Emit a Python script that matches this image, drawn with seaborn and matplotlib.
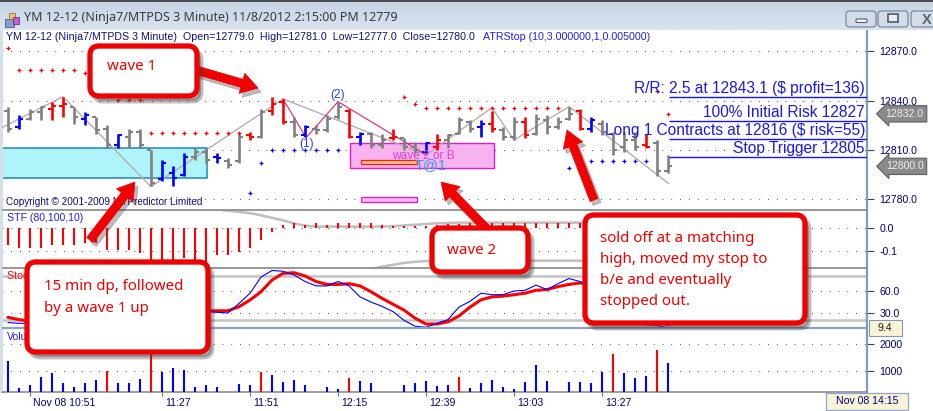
import matplotlib
matplotlib.use("Agg")
import matplotlib.pyplot as plt
import matplotlib.patches as mpatches
import matplotlib.transforms as mtransforms
from matplotlib.colors import LinearSegmentedColormap
import numpy as np
import pandas as pd
import seaborn as sns

nan = np.nan

# ---- YM 12-12, 3 minute bars (10:45 .. 13:45) ----
bar_no = list(range(61))
bar_high = [12836, 12831, 12835, 12837, 12839, 12842, 12836, 12833, 12830, 12825,
            12820, 12823, 12823, 12810, 12804, 12800, 12808, 12811, 12811, 12808,
            12805, 12820, 12821, 12835, 12842, 12841, 12830, 12825, 12825, 12831,
            12839, 12835, 12821, 12821, 12820, 12823, 12817, 12815, 12815, 12820,
            12820, 12830, 12828, 12828, 12834, 12824, 12830, 12830, 12832, 12831,
            12830, 12836, 12835, 12830, 12828, 12821, 12821, 12821, 12820, 12816,
            12807]
bar_low = [12821, 12823, 12828, 12828, 12828, 12830, 12826, 12825, 12820, 12811,
           12811, 12811, 12811, 12788, 12791, 12788, 12794, 12804, 12802, 12802,
           12799, 12802, 12816, 12817, 12831, 12826, 12818, 12818, 12820, 12821,
           12829, 12817, 12813, 12811, 12811, 12816, 12810, 12808, 12808, 12810,
           12811, 12820, 12821, 12818, 12821, 12816, 12816, 12817, 12819, 12820,
           12823, 12828, 12822, 12821, 12819, 12807, 12809, 12810, 12811, 12794,
           12796]
bar_open = [12834, 12824, 12829, 12833, 12835, 12837, 12836, 12829, 12830, 12823,
            12813, 12818, 12821, 12810, 12792, 12796, 12795, 12806, 12809, 12806,
            12803, 12803, 12819, 12818, 12834, 12839, 12827, 12819, 12823, 12822,
            12830, 12834, 12818, 12820, 12813, 12817, 12817, 12812, 12809, 12812,
            12816, 12820, 12827, 12824, 12826, 12822, 12818, 12827, 12820, 12828,
            12824, 12829, 12834, 12823, 12826, 12820, 12812, 12816, 12813, 12814,
            12797]
bar_close = [12823, 12829, 12833, 12836, 12837, 12838, 12830, 12831, 12822, 12813,
             12819, 12821, 12813, 12790, 12802, 12793, 12806, 12809, 12804, 12805,
             12801, 12818, 12818, 12833, 12838, 12827, 12819, 12824, 12822, 12829,
             12836, 12818, 12820, 12813, 12816, 12818, 12812, 12810, 12814, 12816,
             12819, 12828, 12823, 12826, 12823, 12818, 12827, 12819, 12829, 12824,
             12827, 12832, 12823, 12828, 12821, 12810, 12816, 12812, 12812, 12797,
             12800]
# n = neutral (gray), u = blue, d = red
bar_state = ['n', 'u', 'n', 'n', 'd', 'd', 'n', 'u', 'n', 'n',
             'u', 'n', 'n', 'n', 'u', 'u', 'u', 'n', 'n', 'u',
             'n', 'n', 'd', 'n', 'd', 'd', 'n', 'u', 'n', 'n',
             'n', 'd', 'u', 'n', 'n', 'd', 'n', 'n', 'u', 'd',
             'n', 'n', 'n', 'u', 'd', 'n', 'n', 'd', 'n', 'n',
             'n', 'n', 'd', 'u', 'n', 'n', 'n', 'n', 'd', 'n',
             'n']

# ATRStop (10,3,1,0.005)
atr_short = ([12872, 12858.5, 12858.5, 12858.5, 12858.5, 12858.5, 12858.5, 12857, 12850, 12850,
              12840.4, 12840.4, 12840.4] + [12820.5] * 9 + [nan] * 14 +
             [12842.4, 12838] + [12835.8] * 13 + [nan] * 8 + [12846, 12831.7])
atr_long = ([nan] * 22 + [12784, 12802] + [12810] * 7 + [nan] * 20 +
            [12799, nan] + [12803] * 6 + [nan, nan])

# swing zigzag and wave count
swing_bar = [-0.55, 5, 13, 25, 38, 44, 46, 51, 60.05]
swing_price = [12823.6, 12842.5, 12787.6, 12841.1, 12807, 12835.8, 12816, 12836.4, 12789.6]
wave_bar = [25, 27.1, 30, 38.05]
wave_price = [12841.1, 12817.5, 12839.4, 12806.9]
wave_labels = ['(1)', '(2)']
wave_label_bar = [27.1, 30]
wave_label_price = [12813.4, 12843.6]

# zones: (bar from, bar to, price low, price high)
zone_support = (-0.55, 18.1, 12792.7, 12811.1)
zone_target = (31.1, 44.2, 12798.8, 12814.0)
zone_inner = (32.1, 37.2, 12801.2, 12803.9)
zone_lower = (32.1, 37.2, 12778.5, 12781.1)

# trade levels on the right
trade_levels = [12842.5, 12827.4, 12816.5, 12805.5]
trade_texts = ['R/R: 2.5 at 12843.1 ($ profit=136)', '100% Initial Risk 12827',
               'Long 1 Contracts at 12816 ($ risk=55)', 'Stop Trigger 12805']
price_ticks = [12870, 12840, 12810, 12780]
price_flags = [12832.0, 12800.0]

# STF (80,100,10)
stf_hist = [-0.074, -0.088, -0.088, -0.088, -0.074, -0.074, -0.074, -0.067, -0.067, -0.096,
            -0.096, -0.096, -0.110, -0.146, -0.146, -0.139, -0.132, -0.146, -0.146, -0.117,
            -0.117, -0.103, -0.088, -0.052, -0.016, 0.013, 0.020, 0.013, 0.023, 0.013,
            0.023, 0.023, 0.023, 0.023, 0.013, 0.010, 0.008, 0.008, 0.008, 0.012,
            0.015, 0.018, 0.023, 0.023, 0.023, 0.023, 0.023, 0.023, 0.023, 0.023,
            0.023, 0.023, 0.023, 0.015, 0.012, 0.010, 0.008, 0.008, 0.006, 0.005,
            0.004]
stf_upper = ([0.095] * 17 + [0.092, 0.086, 0.080, 0.075, 0.070, 0.064, 0.055, 0.044,
                             0.033, 0.020, 0.010] + [0.006] * 7 +
             [0.008, 0.011, 0.014, 0.017, 0.020, 0.022] + [0.023] * 20)
stf_lower = ([-0.19] * 33 + [-0.178, -0.168, -0.160, -0.152, -0.147, -0.144] + [-0.142] * 22)
stf_ticks = [0.0, -0.1]

# Stochastics
stoch_k = [17, 16, 16, 17, 20, 22, 19, 16, 12, 10,
           12, 15, 13, 11, 15, 22, 28, 33, 32, 31,
           30, 43, 57, 79, 88, 87, 82, 73, 67, 67,
           73, 67, 52, 45, 39, 32, 20, 12, 10.5, 16,
           21, 38, 46, 57, 55, 55, 60, 61, 68, 62,
           70, 77, 73, 60, 48, 35, 25, 18, 14, 13,
           9.4]
stoch_d = [24, 21, 19, 18, 18, 20, 20, 18, 16, 14,
           13, 14, 15, 13, 14, 18, 24, 29, 33, 33,
           33, 38.6, 47.7, 59, 75, 84, 85, 80.5, 73, 69,
           69, 70, 67, 59, 50, 42, 34, 23, 15, 15,
           18, 26, 38, 48, 52, 53, 55, 57, 61, 62,
           66, 69, 71, 70, 66, 58, 48, 38, 28, 20,
           14]
stoch_bands = [80, 20]
stoch_ticks = [60, 30]

# Volume
volume = [1370, 360, 480, 790, 915, 570, 420, 570, 670, 1000,
          545, 570, 705, 2400, 975, 1100, 1040, 420, 480, 420,
          235, 520, 480, 975, 850, 605, 670, 480, 180, 420,
          335, 755, 630, 545, 180, 180, 480, 545, 630, 460,
          470, 790, 360, 545, 670, 395, 320, 605, 1220, 630,
          180, 605, 605, 545, 975, 1630, 915, 755, 825, 1780,
          1310]
volume_red = [9, 13, 23, 31, 41, 55, 59]
vol_ticks = [2000, 1000]

time_tick_bar = [2, 14, 22, 30, 38, 46, 54]
time_tick_label = ['Nov 08 10:51', '11:27', '11:51', '12:15', '12:39', '13:03', '13:27']

df = pd.DataFrame({'bar': bar_no, 'open': bar_open, 'high': bar_high, 'low': bar_low,
                   'close': bar_close, 'state': bar_state, 'volume': volume, 'stf': stf_hist,
                   'stf_up': stf_upper, 'stf_lo': stf_lower, 'k': stoch_k, 'd': stoch_d,
                   'atr_s': atr_short, 'atr_l': atr_long})

# ---------------------------------------------------------------------
sns.set_theme(style='white')
plt.rcParams['font.family'] = ['Liberation Sans', 'DejaVu Sans']

W, H = 933, 411
fig = plt.figure(figsize=(W / 100, H / 100), dpi=100, facecolor='white')

XMIN, XMAX = -6 / 11, 859 / 11
AXIS_BLUE = '#00007A'
DOTS = (0, (0.8, 7.12))


def px_axes(x0, y0, x1, y1):
    return fig.add_axes([x0 / W, 1 - y1 / H, (x1 - x0) / W, (y1 - y0) / H])


def style_panel(ax, ticks, fmt, ylim):
    ax.set_xlim(XMIN, XMAX)
    ax.set_ylim(*ylim)
    ax.set_facecolor('white')
    ax.yaxis.tick_right()
    ax.set_yticks(ticks)
    ax.set_yticklabels([fmt.format(t) for t in ticks])
    ax.tick_params(axis='y', right=True, length=5, width=0.8, color='#404040',
                   labelsize=7.6, labelcolor=AXIS_BLUE, pad=4)
    ax.set_xticks([])
    ax.set_xlabel('')
    ax.set_ylabel('')
    for t in ticks:
        ax.axhline(t, ls=DOTS, color='#505050', lw=0.8, zorder=0)
    ax.spines['left'].set_color('#D5DFEA')
    ax.spines['left'].set_linewidth(1.5)
    ax.spines['right'].set_color('#7F9DB9')
    ax.spines['right'].set_linewidth(1.6)
    ax.spines['top'].set_color('#909090')
    ax.spines['top'].set_linewidth(1.3)
    ax.spines['bottom'].set_visible(False)


def panel_label(ax, text, color, dy):
    ax.annotate(text, xy=(0, 1), xycoords='axes fraction', xytext=(5, dy),
                textcoords='offset pixels', ha='left', va='center', fontsize=7.6, color=color)


# ---------------- price panel ----------------
ax = px_axes(2, 30, 867, 210)

zone_style = [(zone_support, '#AEF4FA', '#1E86B8', 1.1, 1),
              (zone_target, '#F6B3F0', '#E01EC8', 1.0, 1),
              (zone_inner, '#FFC37A', '#F02020', 0.9, 2),
              (zone_lower, '#F6B3F0', '#E01EC8', 0.9, 2)]
for z, fc, ec, lw, zo in zone_style:
    ax.add_patch(mpatches.Rectangle((z[0], z[2]), z[1] - z[0], z[3] - z[2],
                                    fc=fc, ec=ec, lw=lw, zorder=zo))

sns.lineplot(x=swing_bar, y=swing_price, sort=False, color='#B8ACAC', lw=1.0, ax=ax, zorder=3)
sns.lineplot(x=wave_bar, y=wave_price, sort=False, color='#E0207A', lw=0.8, ax=ax, zorder=3)

bar_colors = {'n': '#808080', 'u': '#0000FF', 'd': '#FF0000'}
for state, sub in df.groupby('state'):
    c = bar_colors[state]
    ax.vlines(sub['bar'], sub['low'], sub['high'], color=c, lw=1.9, zorder=4)
    ax.hlines(sub['open'], sub['bar'] - 0.33, sub['bar'], color=c, lw=1.5, zorder=4)
    ax.hlines(sub['close'], sub['bar'], sub['bar'] + 0.33, color=c, lw=1.5, zorder=4)

sns.scatterplot(data=df, x='bar', y='atr_s', marker='+', color='#FF0000', s=9,
                linewidth=0.9, ax=ax, zorder=5)
sns.scatterplot(data=df, x='bar', y='atr_l', marker='+', color='#0000FF', s=9,
                linewidth=0.9, ax=ax, zorder=5)
style_panel(ax, price_ticks, '{:.1f}', (12773.4, 12883.1))
ax.spines['top'].set_visible(False)

for lab, bx, py in zip(wave_labels, wave_label_bar, wave_label_price):
    ax.text(bx, py, lab, ha='center', va='center', fontsize=8.6, color='#2A40F0', zorder=6)
ax.text(34.9, 12806.5, 'wave 2 or B', ha='left', va='center', fontsize=8.6,
        color='#E040D0', zorder=6)
ax.text(37.0, 12800.8, 'T@1', ha='left', va='center', fontsize=10.5, color='#2EA0F0', zorder=6)

for lvl, txt in zip(trade_levels, trade_texts):
    ax.hlines(lvl, 60.1, XMAX, color='#1515E8', lw=1.0, zorder=6)
    ax.annotate(txt, xy=(77.9, lvl), xytext=(0, 1), textcoords='offset pixels',
                ha='right', va='bottom', fontsize=11.2, color='#1A1AE6', zorder=7)

flag_tr = mtransforms.blended_transform_factory(ax.transAxes, ax.transData)
for pf in price_flags:
    ax.text(1.0435, pf, f'{pf:.1f}', transform=flag_tr, ha='center', va='center',
            fontsize=7.6, color='#EEEEEE', clip_on=False,
            bbox=dict(boxstyle='larrow,pad=0.3', fc='#8A8A8A', ec='#5E5E5E', lw=0.8))

ax.annotate('YM 12-12 (Ninja7/MTPDS 3 Minute)  Open=12779.0  High=12781.0  Low=12777.0  '
            'Close=12780.0', xy=(0, 1), xycoords='axes fraction', xytext=(4, -7),
            textcoords='offset pixels', ha='left', va='center', fontsize=7.65, color='#10107A')
ax.annotate('ATRStop (10,3.000000,1,0.005000)', xy=(0, 1), xycoords='axes fraction',
            xytext=(481, -7), textcoords='offset pixels', ha='left', va='center',
            fontsize=7.7, color='#2020E8')
ax.annotate('Copyright © 2001-2009 MTPredictor Limited', xy=(0, 0), xycoords='axes fraction',
            xytext=(4, 8), textcoords='offset pixels', ha='left', va='center',
            fontsize=7.2, color='#10107A')

# ---------------- STF panel ----------------
ax2 = px_axes(2, 210, 867, 268)
sns.lineplot(data=df, x='bar', y='stf_up', color='#BEBEBE', lw=1.8, ax=ax2, zorder=1)
sns.lineplot(data=df, x='bar', y='stf_lo', color='#BEBEBE', lw=1.8, ax=ax2, zorder=1)
ax2.vlines(df['bar'], 0, df['stf'], color='#FF0000', lw=1.5, zorder=3)
panel_label(ax2, 'STF (80,100,10)', '#2020E8', -8)
style_panel(ax2, stf_ticks, '{:.1f}', (-0.174, 0.078))

# ---------------- Stochastics panel ----------------
ax3 = px_axes(2, 268, 867, 328)
for b in stoch_bands:
    ax3.axhline(b, color='#C4C4C4', lw=1.8, zorder=1)
sns.lineplot(data=df, x='bar', y='k', color='#0000FF', lw=0.8, ax=ax3, zorder=3)
sns.lineplot(data=df, x='bar', y='d', color='#FF0000', lw=2.2, ax=ax3, zorder=2)
panel_label(ax3, 'Stochastics (14,3,3)', '#FF0000', -8)
style_panel(ax3, stoch_ticks, '{:.1f}', (9.55, 91.4))
# last-value flag: 33 x 16 px box right of the axis
k_tr = mtransforms.blended_transform_factory(ax3.transAxes, ax3.transData)
ax3.add_patch(mpatches.Rectangle((1.002, stoch_k[-1] - 8 / 0.7333), 33 / 865, 16 / 0.7333,
                                 transform=k_tr, fc='#FAF3D6', ec='#7F9DB9', lw=0.8,
                                 clip_on=False, zorder=8))
ax3.text(1.002 + 16.5 / 865, stoch_k[-1], f'{stoch_k[-1]:.1f}', transform=k_tr,
         ha='center', va='center', fontsize=7.6, color='#202020', clip_on=False, zorder=9)

# ---------------- Volume panel ----------------
ax4 = px_axes(2, 328, 867, 392)
vol_col = ['#FF0000' if b in volume_red else '#0000FF' for b in bar_no]
ax4.vlines(df['bar'], 0, df['volume'], colors=vol_col, lw=1.5, zorder=3)
panel_label(ax4, 'Volume', '#2020E8', -9)
style_panel(ax4, vol_ticks, '{:.0f}', (222, 2593))
ax4.spines['top'].set_color('#8AA2C0')
ax4.spines['top'].set_linewidth(1.6)
ax4.spines['bottom'].set_visible(True)
ax4.spines['bottom'].set_color('#8C8C8C')
ax4.spines['bottom'].set_linewidth(1.2)
ax4.set_xticks(time_tick_bar)
ax4.set_xticklabels(time_tick_label)
ax4.tick_params(axis='x', bottom=True, length=3, width=0.8, color='#707070',
                labelsize=7.6, labelcolor=AXIS_BLUE, pad=1.5)
shift = mtransforms.ScaledTranslation(3 / 100, 0, fig.dpi_scale_trans)
for lab in ax4.get_xticklabels():
    lab.set_horizontalalignment('left')
    lab.set_transform(lab.get_transform() + shift)

# ---------------- overlay: window chrome and callouts (pixel coords) ----------------
ov = fig.add_axes([0, 0, 1, 1], zorder=20)
ov.patch.set_alpha(0)
ov.axis('off')

grad = LinearSegmentedColormap.from_list('tb', ['#C4D3E4', '#DAE4EF'])
ov.imshow(np.linspace(0, 1, 30)[:, None], extent=[0, W, 30, 0], cmap=grad, aspect='auto')
ov.add_patch(mpatches.Rectangle((0, 0), W, 1.6, fc='#4A4A4A', ec='none'))
ov.add_patch(mpatches.Rectangle((0, 30), 2, 362, fc='#D5DFEA', ec='none'))
ov.text(24, 18, 'YM 12-12 (Ninja7/MTPDS 3 Minute) 11/8/2012 2:15:00 PM 12779',
        ha='left', va='center', fontsize=9, color='#3A3A3A', family=['Noto Sans', 'DejaVu Sans'])
# small window icon
ov.add_patch(mpatches.Rectangle((5, 19), 9, 8, fc='#8A9CC8', ec='#505A80', lw=0.6))
ov.add_patch(mpatches.Rectangle((9, 13), 6, 6, fc='#E8C86A', ec='#907030', lw=0.6))
ov.add_patch(mpatches.Rectangle((13, 17), 6, 7, fc='#C060D0', ec='#703080', lw=0.6))

for bx0, bx1 in [(846, 876), (878, 908), (911, 940)]:
    ov.add_patch(mpatches.FancyBboxPatch((bx0, 11), bx1 - bx0, 16,
                                         boxstyle='round,pad=0,rounding_size=3',
                                         fc='#D2DDE9', ec='#6E7F94', lw=0.8))
ov.add_patch(mpatches.FancyBboxPatch((856, 19), 11, 3.5, boxstyle='round,pad=0,rounding_size=1',
                                     fc='white', ec='#505A68', lw=0.8))
ov.add_patch(mpatches.Rectangle((888, 14.5), 10, 7.5, fc='#E8EEF4', ec='#505A68', lw=1.2))
ov.text(927, 19.5, 'X', ha='center', va='center', fontsize=10.5, fontweight='bold',
        color='#5A6472')

ov.add_patch(mpatches.Rectangle((826, 392.5), 82, 17, fc='#FAF3D6', ec='#8AA8D8', lw=0.9))
ov.text(867, 401, 'Nov 08 14:15', ha='center', va='center', fontsize=7.6, color=AXIS_BLUE)

CALLOUT_FONT = ['Noto Sans', 'DejaVu Sans']


def red_arrow(tail, head):
    style = 'simple,head_length=12,head_width=15,tail_width=6'
    for off, col, alpha in [((3, 4), '#404040', 0.35), ((0, 0), '#F00000', 1.0)]:
        ov.add_patch(mpatches.FancyArrowPatch((tail[0] + off[0], tail[1] + off[1]),
                                              (head[0] + off[0], head[1] + off[1]),
                                              arrowstyle=style, mutation_scale=1,
                                              fc=col, ec=col, lw=0.5, alpha=alpha,
                                              shrinkA=0, shrinkB=0))


def callout(x0, y0, x1, y1, lines, tx, ty, step):
    ov.add_patch(mpatches.FancyBboxPatch((x0 + 4, y0 + 5), x1 - x0, y1 - y0,
                                         boxstyle='round,pad=0,rounding_size=9',
                                         fc='#404040', ec='#404040', lw=3.5, alpha=0.35))
    ov.add_patch(mpatches.FancyBboxPatch((x0, y0), x1 - x0, y1 - y0,
                                         boxstyle='round,pad=0,rounding_size=9',
                                         fc='white', ec='#F00000', lw=3.8))
    for i, line in enumerate(lines):
        ov.text(tx, ty + i * step, line, ha='left', va='center', fontsize=10.85,
                color='#F00000', family=CALLOUT_FONT)


red_arrow((196, 70), (258, 88))
callout(90, 46, 197, 96, ['wave 1'], 107, 67, 0)
red_arrow((90, 240), (135, 182))
callout(27, 262, 208, 352, ['15 min dp, followed', 'by a wave 1 up'], 44, 286, 22)
red_arrow((488, 230), (441, 182))
callout(432, 228, 528, 272, ['wave 2'], 447, 250, 0)
red_arrow((594, 200), (567, 130))
callout(585, 215, 805, 323, ['sold off at a matching', 'high, moved my stop to',
                             'b/e and eventually', 'stopped out.'], 600, 238, 21)

ov.set_xlim(0, W)
ov.set_ylim(H, 0)

fig.savefig('out.png', dpi=100, facecolor='white')
